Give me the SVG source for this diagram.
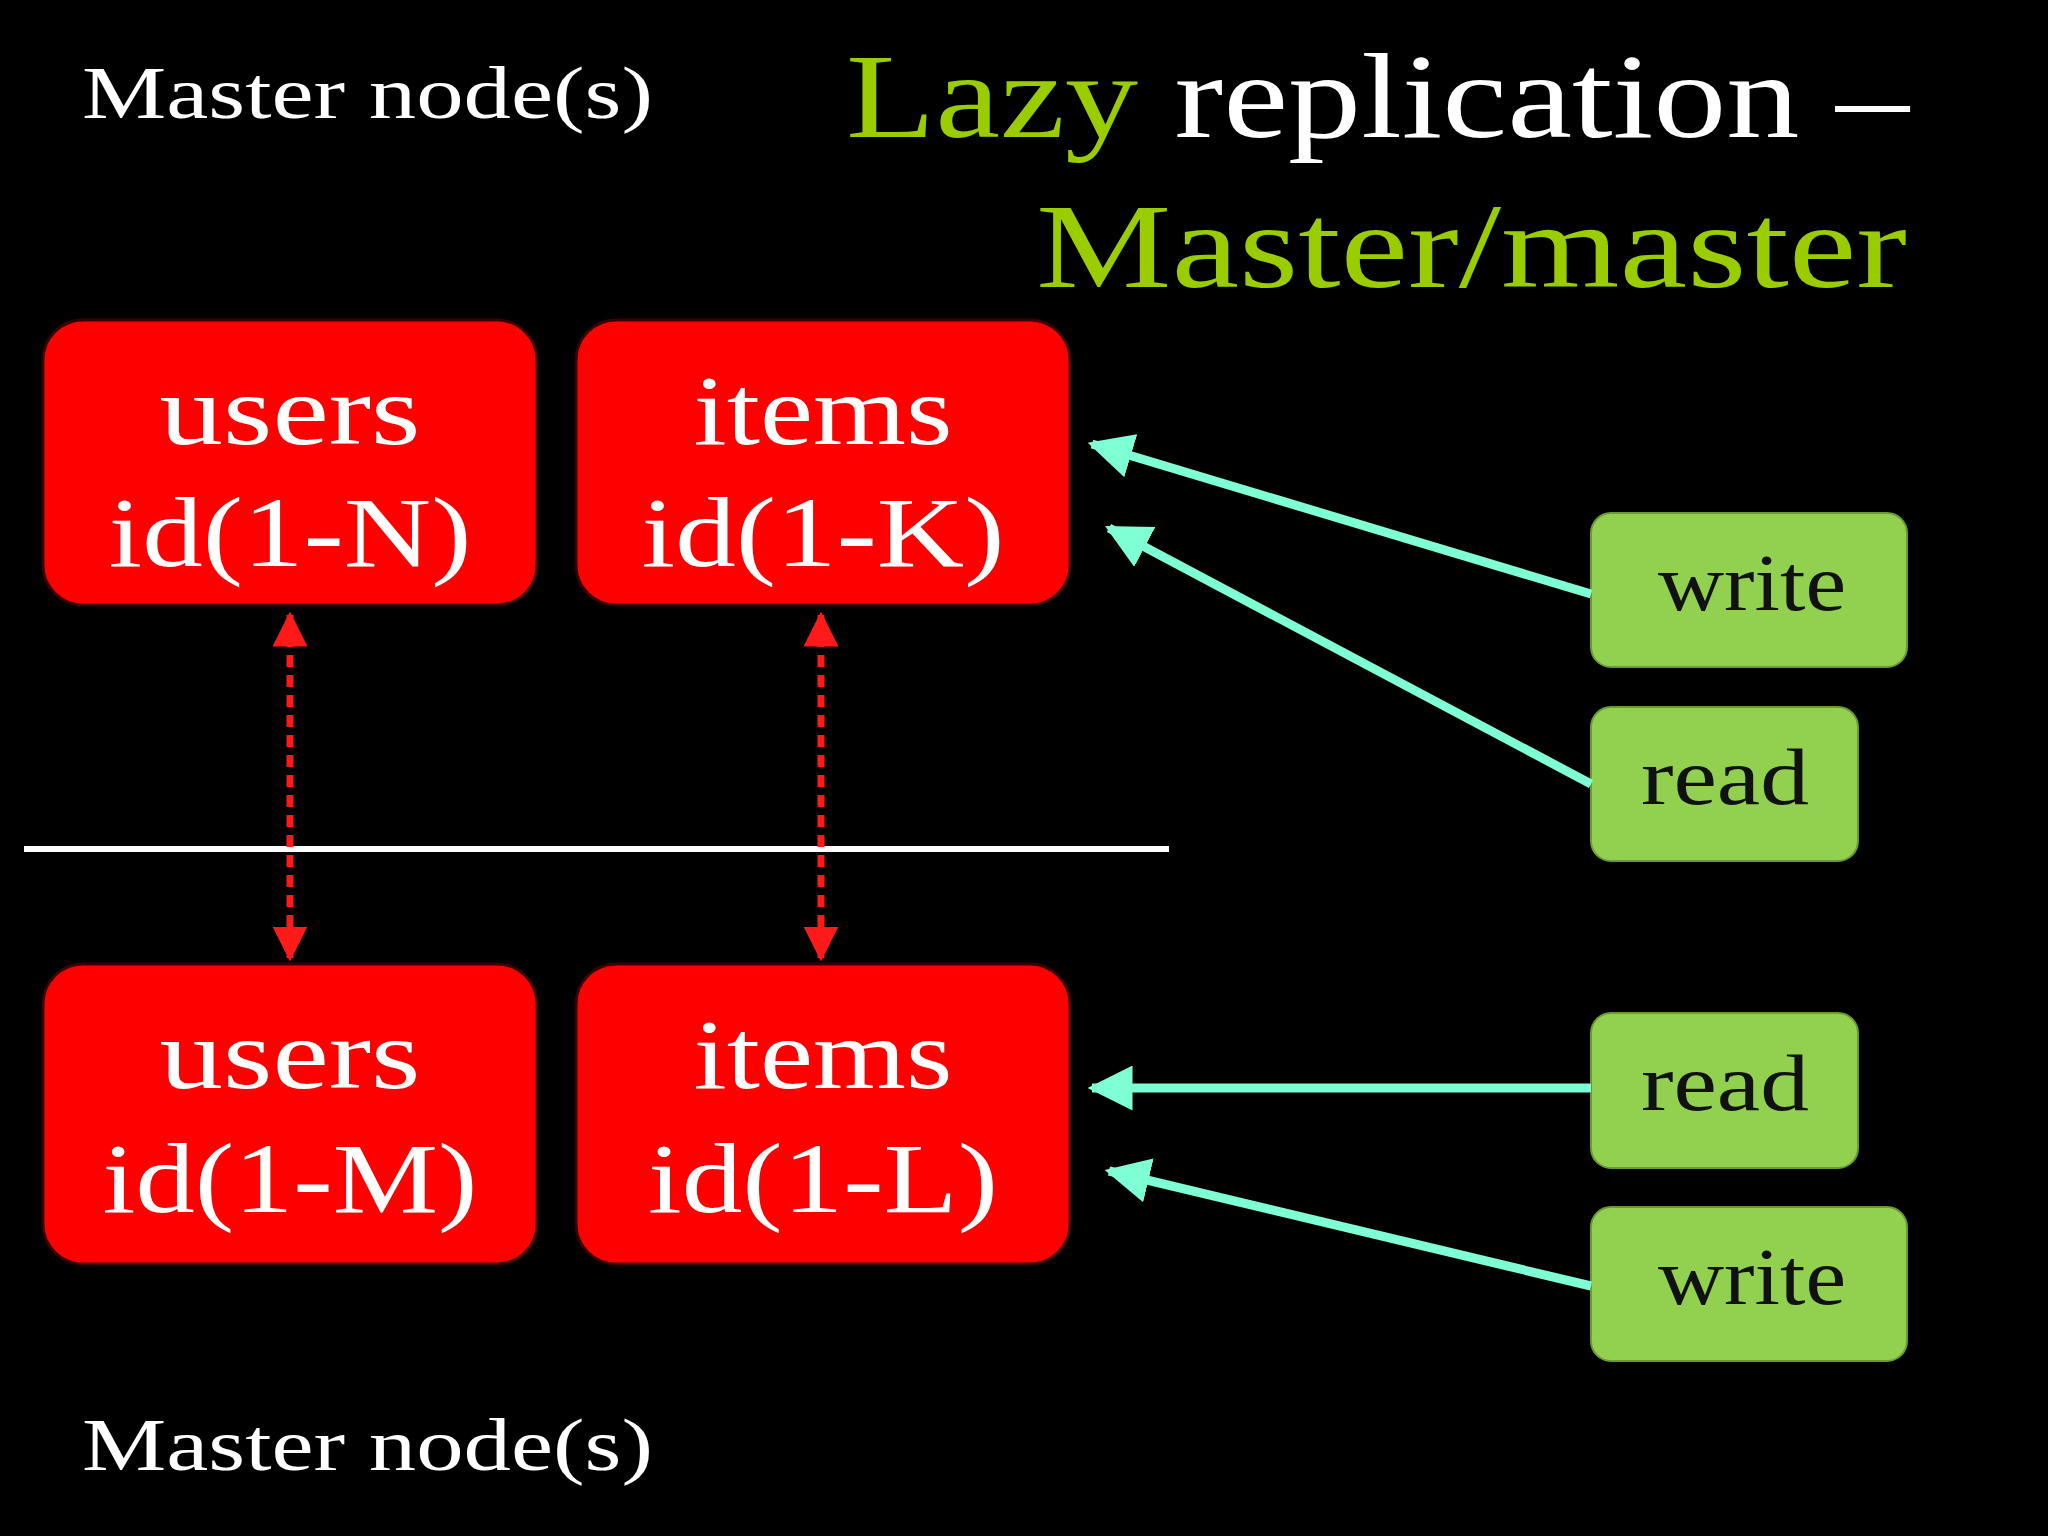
<svg xmlns="http://www.w3.org/2000/svg" width="2048" height="1536" viewBox="0 0 2048 1536">
<defs>
<style>
.t{font-family:"Liberation Serif","DejaVu Serif",serif}
.red rect{fill:#ff0000;stroke:#3a0000;stroke-width:3}
.red text{fill:#fff;font-size:100px;text-anchor:middle}
.grn rect{fill:#92d050;stroke:#6a9a30;stroke-width:2}
.grn text{fill:#111;font-size:80px;text-anchor:middle}
.cy{stroke:#7fffd4;stroke-width:9;fill:none;marker-end:url(#ca)}
.rd{stroke:#ff1a1a;stroke-width:7;stroke-dasharray:12 8;fill:none;marker-start:url(#ra);marker-end:url(#ra)}
</style>
<marker id="ca" viewBox="0 0 10 10" refX="9" refY="5" markerWidth="5" markerHeight="5" orient="auto-start-reverse"><path d="M0,0L10,5L0,10z" fill="#7fffd4"/></marker>
<marker id="ra" viewBox="0 0 10 10" refX="9" refY="5" markerWidth="5" markerHeight="5" orient="auto-start-reverse"><path d="M0,0L10,5L0,10z" fill="#ff1a1a"/></marker>
</defs>
<rect width="2048" height="1536" fill="#000"/>
<text class="t" x="82" y="118" font-size="74" fill="#fff" textLength="571" lengthAdjust="spacingAndGlyphs">Master node(s)</text>
<text class="t" x="82" y="1470" font-size="74" fill="#fff" textLength="571" lengthAdjust="spacingAndGlyphs">Master node(s)</text>
<text class="t" x="846" y="137" font-size="120" fill="#fff" textLength="1063" lengthAdjust="spacingAndGlyphs"><tspan fill="#9acd00">Lazy</tspan> replication –</text>
<text class="t" x="1036" y="287" font-size="120" fill="#9acd00" textLength="871" lengthAdjust="spacingAndGlyphs">Master/master</text>
<line x1="24" y1="849" x2="1169" y2="849" stroke="#fff" stroke-width="6"/>
<g id="users1" class="red t"><rect x="43" y="320" width="494" height="285" rx="40"/><text x="290" y="444" textLength="261" lengthAdjust="spacingAndGlyphs">users</text><text x="290" y="566" textLength="363" lengthAdjust="spacingAndGlyphs">id(1-N)</text></g>
<g id="items1" class="red t"><rect x="576" y="320" width="494" height="285" rx="40"/><text x="823" y="444" textLength="259" lengthAdjust="spacingAndGlyphs">items</text><text x="823" y="566" textLength="363" lengthAdjust="spacingAndGlyphs">id(1-K)</text></g>
<g id="users2" class="red t"><rect x="43" y="964" width="494" height="300" rx="40"/><text x="290" y="1088" textLength="261" lengthAdjust="spacingAndGlyphs">users</text><text x="290" y="1212" textLength="375" lengthAdjust="spacingAndGlyphs">id(1-M)</text></g>
<g id="items2" class="red t"><rect x="576" y="964" width="494" height="300" rx="40"/><text x="823" y="1088" textLength="259" lengthAdjust="spacingAndGlyphs">items</text><text x="823" y="1212" textLength="350" lengthAdjust="spacingAndGlyphs">id(1-L)</text></g>
<g id="write1" class="grn t"><rect x="1591" y="513" width="316" height="154" rx="20"/><text x="1752" y="610" textLength="188" lengthAdjust="spacingAndGlyphs">write</text></g>
<g id="read1" class="grn t"><rect x="1591" y="707" width="267" height="154" rx="20"/><text x="1725" y="804" textLength="168" lengthAdjust="spacingAndGlyphs">read</text></g>
<g id="read2" class="grn t"><rect x="1591" y="1013" width="267" height="155" rx="20"/><text x="1725" y="1110" textLength="168" lengthAdjust="spacingAndGlyphs">read</text></g>
<g id="write2" class="grn t"><rect x="1591" y="1207" width="316" height="154" rx="20"/><text x="1752" y="1304" textLength="188" lengthAdjust="spacingAndGlyphs">write</text></g>
<g id="connectors">
<line class="rd" x1="290" y1="615" x2="290" y2="958"/>
<line class="rd" x1="821" y1="615" x2="821" y2="958"/>
<line class="cy" x1="1591" y1="594" x2="1092" y2="444"/>
<line class="cy" x1="1591" y1="784" x2="1109" y2="528"/>
<line class="cy" x1="1591" y1="1088" x2="1092" y2="1088"/>
<line class="cy" x1="1591" y1="1286" x2="1109" y2="1171"/>
</g>
</svg>
